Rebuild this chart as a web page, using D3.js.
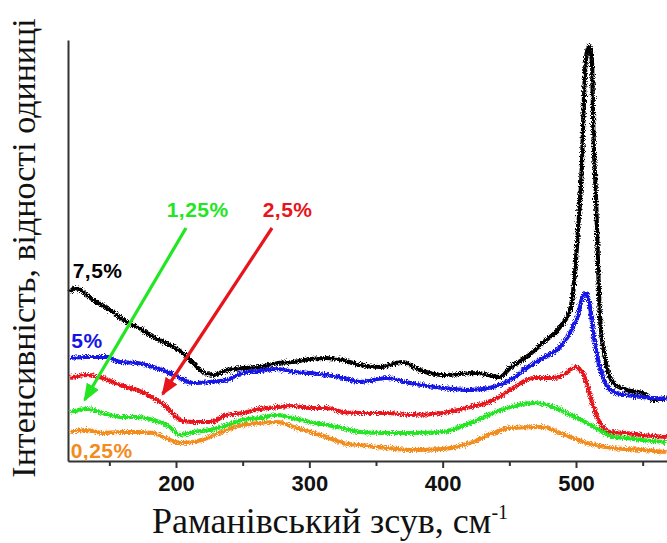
<!DOCTYPE html>
<html>
<head>
<meta charset="utf-8">
<script src="https://cdn.jsdelivr.net/npm/d3@7/dist/d3.min.js"></script>
<style>
  body { margin: 0; background: #fff; }
  svg { display: block; }
</style>
</head>
<body>
<div id="chart"></div>
<script>
// Raman shift, cm-1 / intensity (a.u.)
const black75 = [[120.5,169],[124,173],[138,161],[150.5,151],[163,139],[171,134],[183,124],[195.5,116],[205,108],[213,98],[220,89],[228,86],[238,91],[250,93],[263,94],[276,98],[288,99],[300.5,102],[313,103],[325,101],[338,96],[353,94],[369.5,99],[383,91],[400,86],[426,88],[443,84],[450.5,93],[463,104],[475,118],[488,134],[495.5,151],[499,184],[501.5,231],[504.5,298],[506,364],[508,408],[510,415],[512,398],[513,331],[515,264],[516.5,198],[518,144],[522,101],[528,78],[538,71],[550,68],[558,61],[568,63]];
const blue5 = [[120.5,103],[133,104],[148,104],[158,99],[171,98],[183,94],[195.5,88],[203,83],[213,78],[225.5,79],[238,81],[250,88],[263,90],[276,92],[288,89],[300.5,88],[313,86],[325,83],[338,79],[358,83],[375.5,78],[400,73],[420.5,71],[438,74],[450.5,81],[463,93],[475,103],[488,114],[495.5,128],[501,144],[505,164],[507.5,168],[510.5,154],[513,128],[516.5,101],[522,78],[528,69],[538,66],[550,64],[568,62]];
const red25 = [[120.5,83],[133,86],[145,83],[158,76],[171,71],[183,63],[193,54],[203,41],[213,39],[225.5,39],[238,46],[250,48],[263,52],[276,54],[288,55],[300.5,53],[313,53],[325,49],[338,48],[358,48],[375.5,46],[400,48],[420.5,54],[438,61],[450.5,71],[468,83],[483,83],[493,88],[499,94],[504.5,89],[508,78],[513,54],[518,38],[525.5,29],[538,28],[550,26],[568,24]];
const green125 = [[120.5,49],[133,52],[145,48],[158,44],[171,44],[183,41],[195.5,34],[203,26],[213,29],[225.5,31],[238,36],[250,41],[263,43],[276,46],[288,43],[300.5,39],[313,36],[325,33],[338,29],[358,28],[375.5,28],[400,29],[420.5,38],[438,48],[450.5,54],[468,58],[483,54],[493,48],[508,38],[518,31],[528,24],[538,23],[550,21],[568,19]];
const orange025 = [[120.5,29],[133,31],[145,28],[158,29],[171,29],[183,28],[195.5,21],[203,18],[213,19],[225.5,24],[238,31],[250,36],[263,38],[276,39],[288,34],[300.5,29],[313,24],[325,18],[338,16],[358,13],[375.5,11],[400,12],[420.5,18],[438,28],[450.5,33],[475,34],[488,28],[508,18],[528,13],[550,11],[568,9]];

const majorTicks = [200, 300, 400, 500];
const minorTicks = [150, 250, 350, 450, 550];

const series = [
  { name: "7,5%", color: "#000000", values: black75, label: [122.5, 183] },
  { name: "5%", color: "#1414e6", values: blue5, label: [121.5, 113] },
  { name: "2,5%", color: "#e8141c", values: red25, label: [265, 244] },
  { name: "1,25%", color: "#22e622", values: green125, label: [193, 244] },
  { name: "0,25%", color: "#f28c1e", values: orange025, label: [121, 3] }
];

// arrows: [from, to] in data units
const arrows = [
  { color: "#22e622", from: [207.5, 233], to: [131.5, 61] },
  { color: "#e8141c", from: [272, 233], to: [190, 67] }
];

const width = 667, height = 543;
const svg = d3.select("#chart").append("svg")
  .attr("width", width)
  .attr("height", height);

const x = d3.scaleLinear().domain([119, 568.25]).range([68, 667]);
const y = d3.scaleLinear().domain([0, 421]).range([461, 40]);

const defs = svg.append("defs");
const f = defs.append("filter").attr("id", "noise")
  .attr("x", "-5%").attr("y", "-5%").attr("width", "110%").attr("height", "110%");
f.append("feTurbulence").attr("type", "fractalNoise")
  .attr("baseFrequency", 1.1).attr("numOctaves", 2).attr("seed", 3).attr("result", "t");
f.append("feDisplacementMap").attr("in", "SourceGraphic").attr("in2", "t")
  .attr("scale", 6).attr("xChannelSelector", "R").attr("yChannelSelector", "G");

arrows.forEach((a, i) => {
  defs.append("marker")
    .attr("id", "head" + i)
    .attr("markerUnits", "userSpaceOnUse")
    .attr("viewBox", "0 0 18 14")
    .attr("refX", 16).attr("refY", 7)
    .attr("markerWidth", 18).attr("markerHeight", 14)
    .attr("orient", "auto")
    .append("path")
    .attr("d", "M0,0L18,7L0,14Z")
    .attr("fill", a.color);
});

// axes
const xAxis = svg.append("g")
  .attr("transform", "translate(0," + y(0) + ")")
  .call(d3.axisBottom(x).tickValues(majorTicks).tickSize(7).tickSizeOuter(0).tickPadding(7));
svg.append("g")
  .attr("transform", "translate(0," + y(0) + ")")
  .call(d3.axisBottom(x).tickValues(minorTicks).tickSize(5).tickFormat(""))
  .call(g => g.select(".domain").remove());
const yAxis = svg.append("g")
  .attr("transform", "translate(" + x(119) + ",0)")
  .call(d3.axisLeft(y).tickValues([]).tickSizeOuter(0));

svg.selectAll(".domain").attr("stroke", "#333").attr("stroke-width", 2);
svg.selectAll(".tick line").attr("stroke", "#333").attr("stroke-width", 2);
xAxis.selectAll("text")
  .attr("font-family", "Liberation Sans, Arial, sans-serif")
  .attr("font-weight", "bold")
  .attr("font-size", 22)
  .attr("fill", "#111");

// spectra
const line = d3.line()
  .x(d => x(d[0]))
  .y(d => y(d[1]))
  .curve(d3.curveMonotoneX);

const lines = svg.append("g").attr("filter", "url(#noise)");
lines.selectAll("path")
  .data(series)
  .enter()
  .append("path")
  .attr("d", d => line(d.values))
  .attr("fill", "none")
  .attr("stroke", d => d.color)
  .attr("stroke-width", 4.2)
  .attr("stroke-linejoin", "round");

// arrows
svg.append("g").selectAll("line")
  .data(arrows)
  .enter()
  .append("line")
  .attr("x1", d => x(d.from[0]))
  .attr("y1", d => y(d.from[1]))
  .attr("x2", d => x(d.to[0]))
  .attr("y2", d => y(d.to[1]))
  .attr("stroke", d => d.color)
  .attr("stroke-width", 3.2)
  .attr("marker-end", (d, i) => "url(#head" + i + ")");

// series labels
svg.append("g").selectAll("text")
  .data(series)
  .enter()
  .append("text")
  .attr("x", d => x(d.label[0]))
  .attr("y", d => y(d.label[1]))
  .attr("font-family", "Liberation Sans, Arial, sans-serif")
  .attr("font-weight", "bold")
  .attr("font-size", 21)
  .attr("letter-spacing", 0.5)
  .attr("fill", d => d.color)
  .text(d => d.name);

// axis titles
const xt = svg.append("text")
  .attr("x", 330)
  .attr("y", 533)
  .attr("text-anchor", "middle")
  .attr("font-family", "Liberation Serif, Times New Roman, serif")
  .attr("font-size", 36)
  .attr("fill", "#111");
xt.append("tspan").text("Раманівський зсув, см");
xt.append("tspan").attr("dy", -14).attr("font-size", 20).text("-1");

svg.append("text")
  .attr("transform", "translate(35,248) rotate(-90)")
  .attr("text-anchor", "middle")
  .attr("font-family", "Liberation Serif, Times New Roman, serif")
  .attr("font-size", 34)
  .attr("fill", "#111")
  .text("Інтенсивність, відності одиниці");
</script>
</body>
</html>
